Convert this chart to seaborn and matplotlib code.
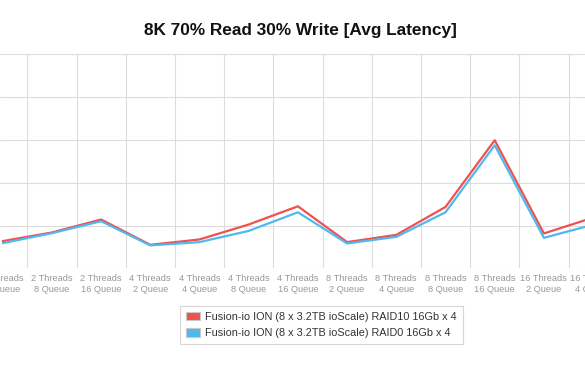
import numpy as np
import pandas as pd
import matplotlib
matplotlib.use("Agg")
import matplotlib.pyplot as plt
from matplotlib.patches import Patch
import seaborn as sns

# ---- data ----
categories = [
    "2 Threads\n4 Queue", "2 Threads\n8 Queue", "2 Threads\n16 Queue",
    "4 Threads\n2 Queue", "4 Threads\n4 Queue", "4 Threads\n8 Queue",
    "4 Threads\n16 Queue", "8 Threads\n2 Queue", "8 Threads\n4 Queue",
    "8 Threads\n8 Queue", "8 Threads\n16 Queue", "16 Threads\n2 Queue",
    "16 Threads\n4 Queue",
]
raid10 = [0.635, 0.837, 1.14, 0.549, 0.674, 1.023, 1.449, 0.612, 0.781, 1.433, 2.991, 0.814, 1.184]
raid0 = [0.588, 0.821, 1.10, 0.535, 0.612, 0.874, 1.309, 0.581, 0.735, 1.309, 2.874, 0.712, 1.019]
series_names = [
    "Fusion-io ION (8 x 3.2TB ioScale) RAID10 16Gb x 4",
    "Fusion-io ION (8 x 3.2TB ioScale) RAID0 16Gb x 4",
]
colors = ["#ef5050", "#4fb9ee"]
y_ticks = [0, 1, 2, 3, 4, 5]

df = pd.DataFrame({
    "pos": list(range(len(categories))) * 2,
    "value": raid10 + raid0,
    "series": [series_names[0]] * len(categories) + [series_names[1]] * len(categories),
})

sns.set_style("white")
plt.rcParams["font.family"] = ["Liberation Sans", "DejaVu Sans"]

W, H = 585, 372
fig = plt.figure(figsize=(W / 100, H / 100), dpi=100)
top_px, bot_px = 54.3, 268.3
ax = fig.add_axes([0, 1 - bot_px / H, 1, (bot_px - top_px) / H])

sns.lineplot(data=df, x="pos", y="value", hue="series", palette=colors,
             hue_order=series_names, linewidth=1.6, sort=False, legend=False,
             ax=ax, zorder=3)

spacing = 49.2
first_px = 2.7
label_kw = dict(fontsize=6.7, color="#999999", linespacing=1.3)
ax.set_yticks(y_ticks)
ax.set_yticklabels([])
ax.set_xticks(range(len(categories)))
ax.set_xticklabels(categories, **label_kw)
ax.set_xticks(np.arange(-0.5, len(categories), 1), minor=True)
ax.set_xlim(-first_px / spacing, (W - first_px) / spacing)
ax.set_ylim(y_ticks[0], y_ticks[-1])
ax.tick_params(axis="x", which="both", length=0, pad=4)
ax.tick_params(axis="y", length=0)
ax.grid(False)
ax.grid(axis="y", which="major", color="#dcdcdc", linewidth=0.8, zorder=0)
ax.grid(axis="x", which="minor", color="#dcdcdc", linewidth=0.8, zorder=0)
for s in ax.spines.values():
    s.set_visible(False)
ax.set_xlabel("")
ax.set_ylabel("")

# category label whose centre lies just beyond the right edge (partly visible)
last = len(categories) - 1
ax.annotate(categories[last], xy=(last, y_ticks[0]), xytext=(0, -4),
            textcoords="offset points", ha="center", va="top",
            annotation_clip=False, clip_on=False, **label_kw)

fig.text(0.513, 1 - 30 / H, "8K 70% Read 30% Write [Avg Latency]",
         ha="center", va="center", fontsize=12.4, fontweight="bold", color="#111111")

handles = [Patch(facecolor=c, edgecolor="#c8c8c8", linewidth=0.8) for c in colors]
leg = fig.legend(handles, series_names, loc="center",
                 bbox_to_anchor=((181 + 462) / 2 / W, 1 - 325 / H),
                 fontsize=7.8, frameon=True, fancybox=False, edgecolor="#cccccc",
                 handlelength=1.3, handleheight=0.85, handletextpad=0.5,
                 labelspacing=0.6, borderpad=0.55, borderaxespad=0)
leg.get_frame().set_linewidth(0.8)
for t in leg.get_texts():
    t.set_color("#333333")

fig.savefig("out.png", dpi=100)
